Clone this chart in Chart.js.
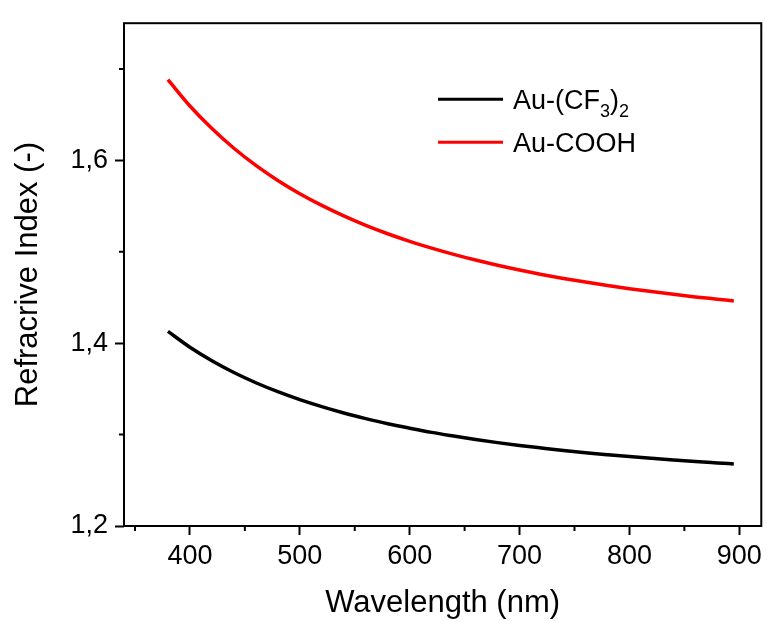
<!DOCTYPE html>
<html>
<head>
<meta charset="utf-8">
<script src="https://cdn.jsdelivr.net/npm/chart.js@4.4.1/dist/chart.umd.min.js"></script>
<style>
  html, body { margin: 0; padding: 0; background: #fff; }
</style>
</head>
<body>
<canvas id="c" width="767" height="621"></canvas>
<script>
// wavelength (nm) and refractive index
const wavelengths = [380, 400, 420, 440, 460, 480, 500, 520, 540, 560, 580, 600, 620, 640,
  660, 680, 700, 720, 740, 760, 780, 800, 820, 840, 860, 880, 895];
const auCF3 = [1.4129, 1.3956, 1.3808, 1.3679, 1.3567, 1.3469, 1.3382, 1.3305, 1.3236,
  1.3175, 1.3119, 1.3070, 1.3024, 1.2984, 1.2946, 1.2912, 1.2881, 1.2853, 1.2826, 1.2802,
  1.2780, 1.2759, 1.2740, 1.2722, 1.2705, 1.2690, 1.2679];
const auCOOH = [1.6882, 1.6594, 1.6347, 1.6132, 1.5945, 1.5780, 1.5635, 1.5507, 1.5392,
  1.5289, 1.5197, 1.5114, 1.5039, 1.4971, 1.4909, 1.4852, 1.4800, 1.4752, 1.4708, 1.4668,
  1.4631, 1.4596, 1.4564, 1.4534, 1.4506, 1.4481, 1.4462];

const seriesLabels = ['Au-(CF₃)₂', 'Au-COOH'];
const seriesColors = ['#000000', '#ff0000'];

const xMajorTicks = [400, 500, 600, 700, 800, 900];
const xMinorTicks = [350, 450, 550, 650, 750, 850];
const yMajorTicks = [1.2, 1.4, 1.6];
const yMinorTicks = [1.3, 1.5, 1.7];

const FONT = '"Liberation Sans", Arial, Helvetica, sans-serif';

// writes subscript digits (₀-₉) smaller and lower, like the original legend
function drawRichLabel(ctx, text, x0, y0) {
  let cx = x0;
  for (const ch of text) {
    const code = ch.codePointAt(0);
    if (code >= 0x2080 && code <= 0x2089) {
      const d = String(code - 0x2080);
      ctx.font = '18px ' + FONT;
      ctx.fillText(d, cx, y0 + 8);
      cx += ctx.measureText(d).width;
    } else {
      ctx.font = '27px ' + FONT;
      ctx.fillText(ch, cx, y0);
      cx += ctx.measureText(ch).width;
    }
  }
}

const frameAndLegend = {
  id: 'frameAndLegend',
  afterDatasetsDraw(chart) {
    const { ctx, chartArea: a, scales: { x, y } } = chart;
    ctx.save();
    ctx.strokeStyle = '#000';
    ctx.lineWidth = 2;
    ctx.strokeRect(a.left, a.top, a.right - a.left, a.bottom - a.top);

    // minor ticks
    ctx.beginPath();
    xMinorTicks.forEach(v => {
      const px = x.getPixelForValue(v);
      ctx.moveTo(px, a.bottom);
      ctx.lineTo(px, a.bottom + 5);
    });
    yMinorTicks.forEach(v => {
      const py = y.getPixelForValue(v);
      ctx.moveTo(a.left, py);
      ctx.lineTo(a.left - 5, py);
    });
    ctx.stroke();

    // legend inside the plot
    ctx.fillStyle = '#000';
    ctx.textBaseline = 'alphabetic';
    ctx.textAlign = 'left';
    chart.data.datasets.forEach((ds, i) => {
      const ly = a.top + 76 + i * 43;
      ctx.beginPath();
      ctx.strokeStyle = ds.borderColor;
      ctx.lineWidth = 3;
      ctx.moveTo(a.left + 314, ly);
      ctx.lineTo(a.left + 379, ly);
      ctx.stroke();
      drawRichLabel(ctx, ds.label, a.left + 389, ly + 10);
    });
    ctx.restore();
  }
};

const datasets = [auCF3, auCOOH].map((vals, i) => ({
  label: seriesLabels[i],
  data: vals.map((v, j) => ({ x: wavelengths[j], y: v })),
  borderColor: seriesColors[i],
  backgroundColor: seriesColors[i],
  borderWidth: 3.5,
  pointRadius: 0,
  cubicInterpolationMode: 'monotone',
  fill: false
}));

new Chart(document.getElementById('c'), {
  type: 'line',
  data: { datasets },
  plugins: [frameAndLegend],
  options: {
    responsive: false,
    animation: false,
    devicePixelRatio: 1,
    layout: { padding: { top: 15, right: 5, left: 0, bottom: 0 } },
    plugins: {
      legend: { display: false },
      tooltip: { enabled: false }
    },
    scales: {
      x: {
        type: 'linear',
        min: 340,
        max: 920,
        afterBuildTicks: s => { s.ticks = xMajorTicks.map(v => ({ value: v })); },
        afterFit: s => { s.height = 95; },
        border: { display: false },
        grid: { drawOnChartArea: false, tickLength: 9, tickWidth: 2, tickColor: '#000' },
        ticks: {
          padding: 5,
          color: '#000',
          font: { family: FONT, size: 27 },
          maxRotation: 0,
          callback: v => String(v)
        },
        title: {
          display: true,
          text: 'Wavelength (nm)',
          color: '#000',
          font: { family: FONT, size: 31, lineHeight: 1 },
          padding: { top: 0, bottom: 2 }
        }
      },
      y: {
        type: 'linear',
        min: 1.2,
        max: 1.75,
        afterBuildTicks: s => { s.ticks = yMajorTicks.map(v => ({ value: v })); },
        afterFit: s => { s.width = 124; },
        border: { display: false },
        grid: { drawOnChartArea: false, tickLength: 9, tickWidth: 2, tickColor: '#000' },
        ticks: {
          padding: 7,
          color: '#000',
          font: { family: FONT, size: 27 },
          callback: v => Number(v).toFixed(1).replace('.', ',')
        },
        title: {
          display: true,
          text: 'Refracrive Index (-)',
          color: '#000',
          font: { family: FONT, size: 31, lineHeight: 1 },
          padding: { top: 13, bottom: 0 }
        }
      }
    }
  }
});
</script>
</body>
</html>
